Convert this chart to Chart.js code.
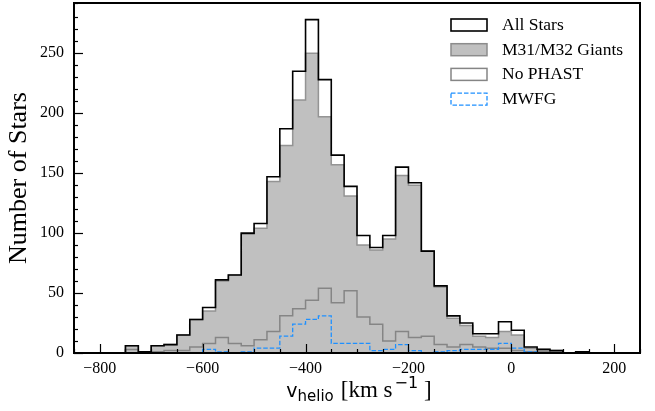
<!DOCTYPE html>
<html>
<head>
<meta charset="utf-8">
<script src="https://cdn.jsdelivr.net/npm/chart.js@4.4.1/dist/chart.umd.min.js"></script>
<style>
  html, body { margin: 0; padding: 0; background: #fff; }
  #wrap { width: 655px; height: 411px; }
</style>
</head>
<body>
<div id="wrap"><canvas id="velChart"></canvas></div>
<script>
// ---------- Data: 25 km/s bins, -800 .. 200 ----------
const binEdges = [
  -800, -775, -750, -725, -700, -675, -650, -625, -600, -575,
  -550, -525, -500, -475, -450, -425, -400, -375, -350, -325,
  -300, -275, -250, -225, -200, -175, -150, -125, -100, -75,
  -50, -25, 0, 25, 50, 75, 100, 125, 150, 175, 200
];
const allStars = [
  0, 0, 6, 1, 6, 7, 15, 28, 38, 61,
  65, 100, 108, 147, 187, 235, 278, 228, 165, 139,
  98, 88, 98, 155, 142, 85, 56, 31, 25, 16,
  16, 26, 19, 5, 3, 2, 0, 1, 0, 0
];
const m31Giants = [
  0, 0, 6, 1, 6, 7, 15, 28, 35, 60,
  65, 99, 104, 143, 173, 211, 250, 197, 157, 131,
  90, 86, 95, 148, 140, 85, 55, 29, 23, 14,
  13, 18, 15, 4, 3, 2, 0, 1, 0, 0
];
const noPhast = [
  0, 0, 3, 0, 1, 2, 2, 5, 8, 13,
  8, 6, 11, 18, 31, 37, 44, 54, 42, 52,
  30, 24, 10, 18, 13, 14, 7, 5, 7, 5,
  4, 4, 2, 1, 1, 0, 0, 0, 0, 0
];
const mwfg = [
  0, 0, 0, 0, 0, 0, 0, 0, 3, 1,
  0, 1, 4, 4, 14, 24, 28, 31, 8, 8,
  8, 2, 3, 7, 2, 0, 1, 2, 3, 3,
  3, 8, 4, 1, 0, 0, 0, 0, 0, 0
];
const seriesLabels = ['All Stars', 'M31/M32 Giants', 'No PHAST', 'MWFG'];

// x = left bin edge, last point closes the outline back to zero
function stepPoints(counts) {
  const pts = [{ x: binEdges[0], y: 0 }];
  counts.forEach((c, i) => pts.push({ x: binEdges[i], y: c }));
  pts.push({ x: binEdges[counts.length], y: 0 });
  return pts;
}

const SERIF = '"Liberation Serif", "Times New Roman", serif';
const SANS = '"DejaVu Sans", sans-serif';
const minus = v => String(v).replace('-', '\u2212');

// ---------- inward ticks + frame ----------
const frameTicks = {
  id: 'frameTicks',
  afterDraw(chart) {
    const { ctx, chartArea: a, scales } = chart;
    ctx.save();
    ctx.strokeStyle = '#000';
    ctx.lineWidth = 1.2;
    scales.x.ticks.forEach(t => {
      const px = Math.round(scales.x.getPixelForValue(t.value)) + 0.5;
      const len = t.value % 200 === 0 ? 9 : 4;
      ctx.beginPath();
      ctx.moveTo(px, a.bottom);
      ctx.lineTo(px, a.bottom - len);
      ctx.stroke();
    });
    scales.y.ticks.forEach(t => {
      const py = Math.round(scales.y.getPixelForValue(t.value)) + 0.5;
      const len = t.value % 50 === 0 ? 9 : 4;
      ctx.beginPath();
      ctx.moveTo(a.left, py);
      ctx.lineTo(a.left + len, py);
      ctx.stroke();
    });
    ctx.lineWidth = 2;
    ctx.strokeRect(a.left, a.top, a.right - a.left, a.bottom - a.top);
    ctx.restore();
  }
};

// ---------- legend (upper right, no frame) ----------
const boxLegend = {
  id: 'boxLegend',
  afterDraw(chart) {
    const { ctx, chartArea: a } = chart;
    const x0 = a.right - 189, y0 = a.top + 16;
    ctx.save();
    chart.data.datasets.forEach((ds, i) => {
      const y = y0 + i * 24.7;
      ctx.fillStyle = ds.fill ? ds.backgroundColor : '#fff';
      ctx.fillRect(x0, y, 36, 12);
      ctx.strokeStyle = ds.legendEdge || ds.borderColor;
      ctx.lineWidth = ds.borderWidth;
      ctx.setLineDash(ds.borderDash || []);
      ctx.strokeRect(x0, y, 36, 12);
      ctx.setLineDash([]);
      ctx.fillStyle = '#000';
      ctx.font = '17.5px ' + SERIF;
      ctx.textBaseline = 'middle';
      ctx.fillText(ds.label, x0 + 51, y + 6.5);
    });
    ctx.restore();
  }
};

// ---------- x title with sub/superscript ----------
const xTitle = {
  id: 'xTitle',
  afterDraw(chart) {
    const { ctx, chartArea: a } = chart;
    const base = 397;
    const parts = [
      { t: 'v', dy: 0, f: '19px ' + SANS, gap: 0 },
      { t: 'helio', dy: 4, f: '15px ' + SANS, gap: 7 },
      { t: '[km s', dy: 0, f: '23px ' + SERIF, gap: 2 },
      { t: '\u22121', dy: -9, f: '16px ' + SANS, gap: 6 },
      { t: ']', dy: 0, f: '23px ' + SERIF, gap: 0 }
    ];
    ctx.save();
    let total = 0;
    parts.forEach(p => { ctx.font = p.f; p.w = ctx.measureText(p.t).width; total += p.w + p.gap; });
    let x = (a.left + a.right) / 2 + 2 - total / 2;
    ctx.fillStyle = '#000';
    ctx.textBaseline = 'alphabetic';
    parts.forEach(p => {
      ctx.font = p.f;
      ctx.fillText(p.t, x, base + p.dy);
      x += p.w + p.gap;
    });
    ctx.restore();
  }
};

new Chart(document.getElementById('velChart'), {
  type: 'line',
  data: {
    datasets: [
      {
        label: seriesLabels[0], data: stepPoints(allStars),
        borderColor: '#000', borderWidth: 1.6, backgroundColor: '#fff',
        fill: false, order: 0
      },
      {
        label: seriesLabels[1], data: stepPoints(m31Giants),
        borderColor: 'rgba(140,140,140,0.9)', legendEdge: '#8c8c8c', borderWidth: 1.5,
        backgroundColor: '#c0c0c0', fill: 'origin', order: 3
      },
      {
        label: seriesLabels[2], data: stepPoints(noPhast),
        borderColor: '#858585', borderWidth: 1.5, backgroundColor: '#fff',
        fill: false, order: 2
      },
      {
        label: seriesLabels[3], data: stepPoints(mwfg),
        borderColor: '#1e90ff', borderWidth: 1.3, borderDash: [4.5, 2],
        backgroundColor: '#fff', fill: false, order: 1
      }
    ]
  },
  options: {
    responsive: true,
    maintainAspectRatio: false,
    animation: false,
    layout: { padding: { top: 3, right: 15, left: 0, bottom: 0 } },
    elements: {
      point: { radius: 0, hoverRadius: 0 },
      line: { stepped: 'before', tension: 0 }
    },
    plugins: {
      legend: { display: false },
      tooltip: { enabled: false }
    },
    scales: {
      x: {
        type: 'linear', min: -850, max: 250,
        afterFit: s => { s.height = 58; s.paddingLeft = 0; s.paddingRight = 0; },
        grid: { display: false, drawTicks: false },
        border: { display: false },
        ticks: {
          stepSize: 50, autoSkip: false, maxRotation: 0, padding: 6,
          color: '#000', font: { family: SERIF, size: 16 },
          callback: v => (v % 200 === 0 ? minus(v) : '')
        }
      },
      y: {
        min: 0, max: 291.9,
        afterFit: s => { s.width = 74; s.paddingTop = 0; s.paddingBottom = 0; },
        grid: { display: false, drawTicks: false },
        border: { display: false },
        ticks: {
          stepSize: 10, autoSkip: false, padding: 10,
          color: '#000', font: { family: SERIF, size: 16 },
          callback: v => (v % 50 === 0 ? String(v) : '')
        },
        title: {
          display: true, text: 'Number of Stars', color: '#000',
          font: { family: SERIF, size: 26 }, padding: { top: 4, bottom: 0 }
        }
      }
    }
  },
  plugins: [frameTicks, boxLegend, xTitle]
});
</script>
</body>
</html>
